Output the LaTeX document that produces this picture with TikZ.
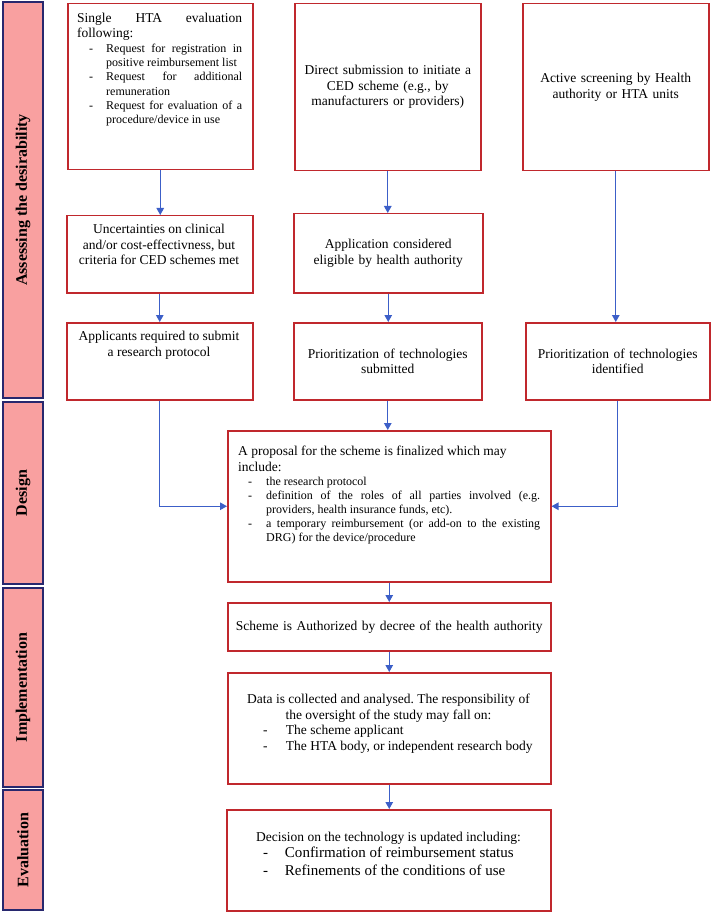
\documentclass[tikz,border=0pt]{standalone}
\usepackage{fontspec}
\setmainfont{Liberation Serif}
\usetikzlibrary{arrows.meta}
\definecolor{boxred}{RGB}{192,40,45}
\definecolor{arrblue}{RGB}{60,95,200}
\definecolor{barpink}{RGB}{249,160,160}
\definecolor{barnavy}{RGB}{40,40,110}
\setlength{\parindent}{0pt}
\hyphenpenalty=10000
\exhyphenpenalty=10000
\tolerance=9999
\frenchspacing
\newcommand{\dashitem}[3]{\par\hangindent=#2\relax\hangafter=1\relax\noindent\hspace*{#1}\makebox[\dimexpr#2-#1\relax][l]{-}\ignorespaces#3}
\newcommand{\mainfs}{\fontsize{13.5}{15.5}\selectfont}
\begin{document}
\begin{tikzpicture}[x=1pt,y=-1pt,
  box/.style={draw=boxred, line width=1.5pt, fill=white, inner sep=0pt, anchor=north west},
  txt/.style={inner sep=0pt, font=\mainfs},
  bar/.style={draw=barnavy, fill=barpink, line width=1.2pt, inner sep=0pt, rotate=90, font=\fontsize{16}{18}\selectfont\bfseries},
  arr/.style={draw=arrblue, line width=1.2pt, -{Triangle[width=7.5pt,length=7pt]}}
]
\useasboundingbox (0,0) rectangle (712,917);

% stage bars
\node[bar, minimum width=396pt, minimum height=40pt] (S1) at (23,200) {Assessing the desirability};
\node[bar, minimum width=182pt, minimum height=40pt] (S2) at (23,493) {Design};
\node[bar, minimum width=199pt, minimum height=40pt] (S3) at (23,687.5) {Implementation};
\node[bar, minimum width=120pt, minimum height=40pt] (S4) at (23,850) {Evaluation};

% row 1
\node[box, minimum width=185pt, minimum height=166pt] (A1) at (67,3) {};
\node[txt, anchor=north west, text width=165pt, align=justify] (A1t) at (77,12.8)
 {Single HTA evaluation following:\par
  \fontsize{12}{14.3}\selectfont
  \dashitem{12pt}{29pt}{Request for registration in positive reimbursement list}
  \dashitem{12pt}{29pt}{Request for additional remuneration}
  \dashitem{12pt}{29pt}{Request for evaluation of a procedure/device in use}\par};
\node[box, txt, minimum width=186pt, minimum height=167pt, text width=176pt, align=center] (B1) at (294,3)
 {Direct submission to initiate a\\CED scheme (e.g., by\\manufacturers or providers)};
\node[box, txt, minimum width=186pt, minimum height=167pt, text width=176pt, align=center] (C1) at (522,3)
 {Active screening by Health\\authority or HTA units};

% row 2
\node[box, minimum width=186pt, minimum height=77pt] (A2) at (66,215) {};
\node[txt, anchor=north, align=center] (A2t) at (159,224)
 {Uncertainties on clinical\\and/or cost-effectivness, but\\criteria for CED schemes met};
\node[box, txt, minimum width=189pt, minimum height=79pt, text width=180pt, align=center] (B2) at (293,213)
 {Application considered\\eligible by health authority};

% row 3
\node[box, minimum width=186pt, minimum height=77pt] (A3) at (66,322) {};
\node[txt, anchor=north, align=center] (A3t) at (159,331)
 {Applicants required to submit\\a research protocol};
\node[box, txt, minimum width=188pt, minimum height=77pt, text width=180pt, align=center] (B3) at (293,322)
 {Prioritization of technologies\\submitted};
\node[box, txt, minimum width=184pt, minimum height=77pt, text width=176pt, align=center] (C3) at (525,322)
 {Prioritization of technologies\\identified};

% design
\node[box, minimum width=323pt, minimum height=151pt] (D) at (227,430) {};
\node[txt, anchor=north west, text width=302pt, align=justify] (Dt) at (238,446)
 {A proposal for the scheme is finalized which may\\include:\par
  \fontsize{12}{14}\selectfont
  \dashitem{10pt}{28pt}{the research protocol}
  \dashitem{10pt}{28pt}{definition of the roles of all parties involved (e.g. providers, health insurance funds, etc).}
  \dashitem{10pt}{28pt}{a temporary reimbursement (or add-on to the existing DRG) for the device/procedure}\par};

% implementation
\node[box, txt, minimum width=323pt, minimum height=48pt, text width=313pt, align=center] (E) at (227,602)
 {Scheme is Authorized by decree of the health authority};
\node[box, minimum width=323pt, minimum height=111pt] (F) at (227,672) {};
\node[txt, anchor=north, text width=310pt, align=justify] (Ft) at (388.5,694)
 {{\centering Data is collected and analysed. The responsibility of\\the oversight of the study may fall on:\par}
  \dashitem{29.5pt}{52.5pt}{The scheme applicant}
  \dashitem{29.5pt}{52.5pt}{The HTA body, or independent research body}\par};

% evaluation
\node[box, minimum width=324pt, minimum height=101pt] (G) at (226,809) {};
\node[txt, anchor=north, text width=310pt, align=justify] (Gt) at (388.5,832)
 {{\centering Decision on the technology is updated including:\par}
  \par\fontsize{15}{16}\selectfont
  \dashitem{29.5pt}{51.5pt}{Confirmation of reimbursement status}
  \par\fontsize{15}{18}\selectfont
  \dashitem{29.5pt}{51.5pt}{Refinements of the conditions of use}\par};

% connectors
\draw[arr] (A1.south) -- (A1.south |- A2.north);
\draw[arr] (A2.south) -- (A2.south |- A3.north);
\draw[arr] (B1.south) -- (B1.south |- B2.north);
\draw[arr] (B2.south) -- (B2.south |- B3.north);
\draw[arr] (C1.south) -- (C1.south |- C3.north);
\draw[arr] (B3.south) -- (B3.south |- D.north);
\draw[arr] (A3.south) |- (D.west);
\draw[arr] (C3.south) |- (D.east);
\draw[arr] (D.south) -- (D.south |- E.north);
\draw[arr] (E.south) -- (E.south |- F.north);
\draw[arr] (F.south) -- (F.south |- G.north);
\end{tikzpicture}
\end{document}
